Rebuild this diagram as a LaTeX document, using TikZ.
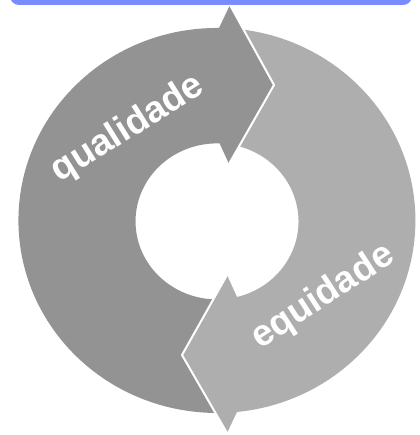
\documentclass[tikz,border=0pt]{standalone}
\usepackage{fontspec}
\setmainfont{Liberation Sans}
\usepackage{tikz}
\definecolor{qualgray}{RGB}{147,147,147}
\definecolor{equigray}{RGB}{174,174,174}
\definecolor{barblue}{RGB}{121,140,255}

\begin{document}
\begin{tikzpicture}[x=1pt, y=1pt,
			ring/.style={x radius=198.5, y radius=192.5},
			hole/.style={x radius=81.5, y radius=78},
			headline/.style={draw=white, line width=2pt, line join=round},
			arrowlabel/.style={text=white, inner sep=0pt, font=\fontsize{37}{40}\selectfont\bfseries}]
			\useasboundingbox (0,0) rectangle (419,435);
			\clip (0,0) rectangle (419,435);
			\fill[barblue, rounded corners=9pt] (10,430) rectangle (412,470);
			\fill[qualgray] (219,407) arc[ring, start angle=89.4, end angle=275.8] -- (237,138)
				arc[hole, start angle=284.2, end angle=88.6] -- cycle;
			\fill[equigray] (219,407) arc[ring, start angle=89.4, end angle=-84.2] -- (237,138)
				arc[hole, start angle=-75.8, end angle=88.6] -- cycle;
			\fill[qualgray] (219,407) -- (230,430) -- (274,350) -- (229,271) -- (219,293) -- cycle;
			\draw[headline] (230,430) -- (274,350) -- (229,271);
			\fill[equigray] (237,23) -- (227,2) -- (182,80) -- (227,160) -- (237,138) -- cycle;
			\draw[headline] (227,2) -- (182,80) -- (227,160);
			\node[arrowlabel, rotate=32] (qual) at (128,306) {qualidade};
			\node[arrowlabel, rotate=33] (equi) at (323,138) {equidade};
			\end{tikzpicture}
\end{document}
